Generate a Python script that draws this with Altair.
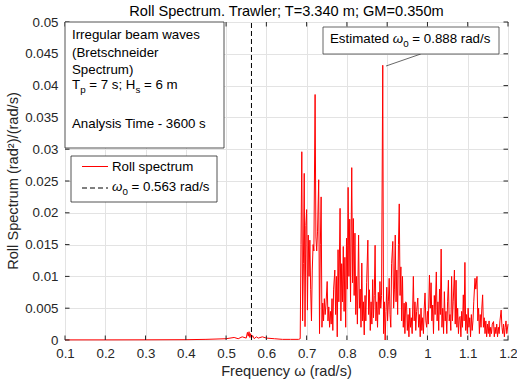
import altair as alt
import pandas as pd

FONT = "Liberation Sans"
W, H = 443, 318

# ---------------- data ----------------
x_ticks = [0.1, 0.2, 0.3, 0.4, 0.5, 0.6, 0.7, 0.8, 0.9, 1.0, 1.1, 1.2]
y_ticks = [0, 0.005, 0.01, 0.015, 0.02, 0.025, 0.03, 0.035, 0.04, 0.045, 0.05]

omega0 = 0.563
omega_est = 0.888

low_band = [(0.10, 0.00002), (0.20, 0.00002), (0.30, 0.00003), (0.40, 0.00005), (0.45, 0.0001),
            (0.50, 0.0002), (0.52, 0.0004), (0.53, 0.0002), (0.54, 0.0005), (0.55, 0.0003),
            (0.553, 0.0012), (0.555, 0.0006), (0.557, 0.0013), (0.559, 0.0004), (0.561, 0.0010),
            (0.563, 0.0003), (0.566, 0.0007), (0.57, 0.0002), (0.575, 0.0005), (0.58, 0.0003),
            (0.59, 0.0005), (0.60, 0.0003), (0.62, 0.0002), (0.64, 0.0001), (0.66, 0.0001),
            (0.68, 0.0001), (0.684, 0.0002)]

seg_a = [(0.686, 0.0150), (0.688, 0.0296), (0.690, 0.0030), (0.692, 0.0120), (0.694, 0.0262),
         (0.696, 0.0021), (0.698, 0.0180), (0.700, 0.0205), (0.702, 0.0047), (0.704, 0.0165),
         (0.706, 0.0100), (0.708, 0.0157), (0.710, 0.0079), (0.712, 0.0030), (0.714, 0.0110),
         (0.716, 0.0150), (0.718, 0.0140), (0.721, 0.0386), (0.723, 0.0162), (0.725, 0.0140),
         (0.727, 0.0170), (0.730, 0.0252), (0.732, 0.0010), (0.734, 0.0150), (0.736, 0.0225),
         (0.738, 0.0020), (0.740, 0.0058), (0.742, 0.0030), (0.744, 0.0065), (0.746, 0.0040),
         (0.748, 0.0055)]

seg_b = [(0.751, 0.0092), (0.753, 0.0030), (0.755, 0.0052), (0.757, 0.0020), (0.759, 0.0045),
         (0.761, 0.0025), (0.763, 0.0065), (0.765, 0.0015), (0.767, 0.0080), (0.770, 0.0110),
         (0.772, 0.0040), (0.774, 0.0100), (0.776, 0.0005), (0.778, 0.0142), (0.780, 0.0060),
         (0.783, 0.0207), (0.785, 0.0030), (0.787, 0.0120), (0.789, 0.0060), (0.791, 0.0147),
         (0.793, 0.0045), (0.795, 0.0130), (0.797, 0.0020), (0.799, 0.0160), (0.801, 0.0080),
         (0.803, 0.0240), (0.805, 0.0100), (0.807, 0.0190), (0.809, 0.0060), (0.812, 0.0271),
         (0.814, 0.0090), (0.816, 0.0191), (0.818, 0.0070), (0.820, 0.0168), (0.822, 0.0040),
         (0.824, 0.0100), (0.826, 0.0025), (0.829, 0.0165), (0.831, 0.0050), (0.833, 0.0080),
         (0.835, 0.0020), (0.837, 0.0121), (0.839, 0.0030), (0.841, 0.0060), (0.843, 0.0008),
         (0.845, 0.0070), (0.847, 0.0030), (0.849, 0.0090)]

seg_c = [(0.852, 0.0157), (0.854, 0.0040), (0.856, 0.0079), (0.858, 0.0015), (0.860, 0.0060),
         (0.862, 0.0025), (0.864, 0.0095), (0.866, 0.0035), (0.868, 0.0070), (0.870, 0.0149),
         (0.872, 0.0030), (0.874, 0.0060), (0.876, 0.0020), (0.878, 0.0075), (0.880, 0.0040),
         (0.882, 0.0092), (0.884, 0.0050), (0.886, 0.0070), (0.889, 0.0432), (0.891, 0.0010),
         (0.893, 0.0060), (0.895, 0.0000), (0.897, 0.0045), (0.899, 0.0083), (0.901, 0.0030),
         (0.903, 0.0060), (0.905, 0.0097), (0.907, 0.0040), (0.909, 0.0020), (0.911, 0.0120),
         (0.914, 0.0155), (0.916, 0.0050), (0.918, 0.0080), (0.920, 0.0165), (0.922, 0.0060),
         (0.924, 0.0110), (0.926, 0.0040), (0.928, 0.0150), (0.930, 0.0214), (0.932, 0.0070),
         (0.934, 0.0115), (0.936, 0.0030), (0.938, 0.0100), (0.940, 0.0020), (0.942, 0.0058),
         (0.944, 0.0010), (0.946, 0.0060), (0.948, 0.0058)]

seg_d = [(0.950, 0.0015), (0.952, 0.0040), (0.954, 0.0005), (0.956, 0.0050), (0.958, 0.0020),
         (0.960, 0.0035), (0.962, 0.0010), (0.965, 0.0100), (0.967, 0.0030), (0.969, 0.0060),
         (0.971, 0.0015), (0.973, 0.0045), (0.976, 0.0066), (0.978, 0.0020), (0.980, 0.0040),
         (0.982, 0.0005), (0.984, 0.0050), (0.986, 0.0015), (0.988, 0.0035), (0.990, 0.0010),
         (0.992, 0.0050), (0.994, 0.0074), (0.996, 0.0030), (0.998, 0.0020), (1.000, 0.0045),
         (1.002, 0.0025), (1.005, 0.0102), (1.007, 0.0050), (1.009, 0.0090), (1.011, 0.0030),
         (1.013, 0.0055), (1.015, 0.0010), (1.017, 0.0070), (1.019, 0.0040), (1.022, 0.0107),
         (1.024, 0.0030), (1.026, 0.0060), (1.028, 0.0015), (1.030, 0.0080), (1.032, 0.0040),
         (1.034, 0.0143), (1.036, 0.0020), (1.038, 0.0050), (1.040, 0.0010), (1.042, 0.0076),
         (1.044, 0.0030), (1.046, 0.0045), (1.048, 0.0010), (1.050, 0.0060), (1.052, 0.0094),
         (1.054, 0.0030), (1.056, 0.0040), (1.058, 0.0015), (1.060, 0.0100), (1.062, 0.0030),
         (1.064, 0.0060), (1.067, 0.0110), (1.069, 0.0025)]

seg_e = [(1.071, 0.0094), (1.073, 0.0020), (1.075, 0.0050), (1.077, 0.0010), (1.079, 0.0035),
         (1.081, 0.0037), (1.083, 0.0005), (1.085, 0.0045), (1.087, 0.0020), (1.089, 0.0071),
         (1.091, 0.0030), (1.093, 0.0122), (1.095, 0.0015), (1.097, 0.0040), (1.099, 0.0010),
         (1.101, 0.0050), (1.103, 0.0020), (1.105, 0.0035), (1.107, 0.0005), (1.109, 0.0040),
         (1.111, 0.0015), (1.113, 0.0030), (1.115, 0.0060), (1.118, 0.0097), (1.120, 0.0080),
         (1.123, 0.0100), (1.125, 0.0030), (1.127, 0.0050), (1.129, 0.0010), (1.131, 0.0040),
         (1.133, 0.0020), (1.135, 0.0050), (1.137, 0.0071), (1.139, 0.0020), (1.141, 0.0035),
         (1.143, 0.0010), (1.145, 0.0030), (1.147, 0.0005), (1.149, 0.0025), (1.151, 0.0010),
         (1.153, 0.0030), (1.155, 0.0005), (1.157, 0.0020), (1.159, 0.0010), (1.161, 0.0025),
         (1.164, 0.0029), (1.166, 0.0005), (1.168, 0.0020), (1.170, 0.0010), (1.172, 0.0025),
         (1.174, 0.0005), (1.176, 0.0020), (1.178, 0.0010), (1.180, 0.0030), (1.183, 0.0047),
         (1.185, 0.0020), (1.187, 0.0010), (1.189, 0.0025), (1.191, 0.0005), (1.193, 0.0020),
         (1.195, 0.0030), (1.197, 0.0010), (1.200, 0.0025)]

# callout leader: from box edge to the estimated peak (data coordinates)
leader_freq = [0.9834]
leader_spec = [0.04497]
leader_freq2 = [0.8972]
leader_spec2 = [0.04308]

# ---------------- chart ----------------
df = pd.DataFrame(low_band + seg_a + seg_b + seg_c + seg_d + seg_e, columns=["freq", "spec"])

GRID = "#e3e3e3"
AX = "#262626"
TICKFS = 13.3
LABFS = 14.6
xs = alt.Scale(domain=[0.1, 1.2], nice=False, zero=False)
ys = alt.Scale(domain=[0, 0.05], nice=False, zero=False)
x_axis = alt.Axis(values=x_ticks, format="~g", title=None, grid=True, gridColor=GRID, gridWidth=1,
                  ticks=False, tickSize=0, domain=False, labelFont=FONT, labelFontSize=TICKFS,
                  labelColor=AX, labelPadding=6, labelFlush=False, labelOverlap=False)
y_axis = alt.Axis(values=y_ticks, format="~g", title=None, grid=True, gridColor=GRID, gridWidth=1,
                  ticks=False, tickSize=0, domain=False, labelFont=FONT, labelFontSize=TICKFS,
                  labelColor=AX, labelPadding=7, labelFlush=False, labelOverlap=False)
X = lambda: alt.X("freq:Q", scale=xs, axis=x_axis, title=None)
Y = lambda: alt.Y("spec:Q", scale=ys, axis=y_axis, title=None)

line = alt.Chart(df).mark_line(color="#ff0000", strokeWidth=1).encode(x=X(), y=Y())

w0_df = pd.DataFrame({"freq": [omega0], "spec": [0.0], "spec2": [0.05]})
w0_rule = alt.Chart(w0_df).mark_rule(color="black", strokeDash=[5, 3], strokeWidth=1).encode(
    x=X(), y=Y(), y2="spec2:Q")

xt = pd.DataFrame({"freq": x_ticks})
yt = pd.DataFrame({"spec": y_ticks})
TL = 4.5
tick_b = alt.Chart(xt).mark_rule(color=AX, strokeWidth=1).encode(x=X(), y=alt.value(H), y2=alt.value(H - TL))
tick_t = alt.Chart(xt).mark_rule(color=AX, strokeWidth=1).encode(x=X(), y=alt.value(0), y2=alt.value(TL))
tick_l = alt.Chart(yt).mark_rule(color=AX, strokeWidth=1).encode(y=Y(), x=alt.value(0), x2=alt.value(TL))
tick_r = alt.Chart(yt).mark_rule(color=AX, strokeWidth=1).encode(y=Y(), x=alt.value(W), x2=alt.value(W - TL))

one = pd.DataFrame({"k": [0]})

def box(x1, y1, x2, y2, stroke=AX, sw=0.8):
    return alt.Chart(one).mark_rect(fill="white", stroke=stroke, strokeWidth=sw).encode(
        x=alt.value(x1), x2=alt.value(x2), y=alt.value(y1), y2=alt.value(y2))

def txt(s, x, y, size=13.3, align="left", angle=0, color="black", italic=False):
    kw = dict(text=s, align=align, baseline="middle", font=FONT, fontSize=size, color=color)
    if angle:
        kw["angle"] = angle
    if italic:
        kw["fontStyle"] = "italic"
    return alt.Chart(one).mark_text(**kw).encode(x=alt.value(x), y=alt.value(y))

# Arial / Liberation Sans advance widths (1/1000 em)
WID = {" ": 278, "=": 584, ".": 278, ";": 278, "/": 278, "-": 333,
       "0": 556, "1": 556, "2": 556, "3": 556, "4": 556, "5": 556, "6": 556,
       "7": 556, "8": 556, "9": 556, "E": 667, "H": 722, "T": 611,
       "a": 556, "d": 556, "e": 556, "i": 222, "m": 833, "p": 556, "r": 333,
       "s": 500, "t": 278, "ω": 781}

def wd(s, fs):
    return sum(WID.get(c, 556) for c in s) / 1000.0 * fs

def rich(parts, x, y, size=13.3, sub=9.8, drop=4.5):
    layers = []
    cx = x
    for s, is_sub, *rest in parts:
        italic = bool(rest and rest[0])
        fs = sub if is_sub else size
        lead = len(s) - len(s.lstrip(" "))
        cx += wd(" " * lead, fs)
        core = s.strip(" ")
        layers.append(txt(core, cx, y + (drop if is_sub else 0), size=fs, italic=italic))
        cx += wd(s.lstrip(" "), fs)
    return layers

layers = [line, w0_rule, tick_b, tick_t, tick_l, tick_r]

# info box (top-left)
layers.append(box(0, 0, 159, 126))
layers += [txt("Irregular beam waves", 7, 13), txt("(Bretschneider", 7, 31),
           txt("Spectrum)", 7, 48), txt("Analysis Time - 3600 s", 7, 102)]
layers += rich([("T", False), ("p", True), (" = 7 s; H", False), ("s", True), (" = 6 m", False)], 7, 63)

# legend box
layers.append(box(6, 134, 152, 180))
layers.append(alt.Chart(one).mark_rule(color="#ff0000", strokeWidth=1).encode(
    x=alt.value(17), x2=alt.value(43), y=alt.value(144.5)))
layers.append(alt.Chart(one).mark_rule(color="black", strokeWidth=1, strokeDash=[5, 3]).encode(
    x=alt.value(17), x2=alt.value(43), y=alt.value(166)))
layers.append(txt("Roll spectrum", 47, 144.5))
layers += rich([("ω", False, True), ("0", True), (" = 0.563 rad/s", False)], 47, 165)

# callout
ld = pd.DataFrame({"freq": leader_freq, "spec": leader_spec,
                   "freq2": leader_freq2, "spec2": leader_spec2})
layers.append(alt.Chart(ld).mark_rule(color="#404040", strokeWidth=0.8).encode(
    x=X(), x2="freq2:Q", y=Y(), y2="spec2:Q"))
layers.append(box(258, 5, 434, 32, stroke="#404040"))
layers += rich([("Estimated ", False), ("ω", False, True), ("0", True), (" = 0.888 rad/s", False)], 265, 17)

# titles
layers.append(txt("Roll Spectrum. Trawler; T=3.340 m; GM=0.350m", W / 2, -10, size=LABFS, align="center"))
layers.append(txt("Frequency ω (rad/s)", W / 2, 350, size=LABFS, align="center", color=AX))
layers.append(txt("Roll Spectrum (rad²)/(rad/s)", -51, H / 2, size=LABFS, align="center", angle=270, color=AX))

chart = alt.layer(*layers).properties(
    width=W, height=H,
    autosize=alt.AutoSizeParams(type="none"),
    padding={"left": 65, "top": 22, "right": 9, "bottom": 48},
    background="white",
).configure_view(stroke=AX, strokeWidth=1)

chart.save("out.html", embed_options={"renderer": "svg", "actions": False})
